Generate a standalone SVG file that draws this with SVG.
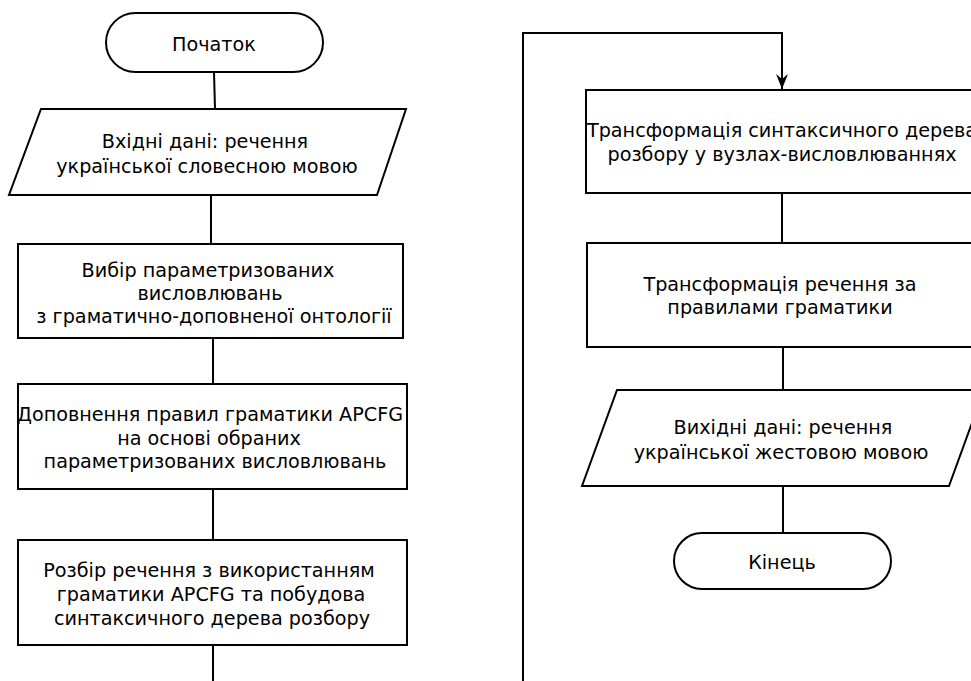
<svg xmlns="http://www.w3.org/2000/svg" width="971" height="681" viewBox="0 0 971 681">
<style>
.s{fill:#fff;stroke:#000;stroke-width:2}
.c{fill:none;stroke:#000;stroke-width:2}
text{font-family:"DejaVu Sans",sans-serif;font-size:19.2px;fill:#000;text-anchor:middle}
</style>
<defs>
<marker id="ah" markerWidth="16" markerHeight="12" refX="15" refY="6" orient="auto" markerUnits="userSpaceOnUse" viewBox="0 0 16 12">
<path d="M0,0 L15,6 L0,12 L5,6 Z" fill="#000"/>
</marker>
</defs>
<rect width="971" height="681" fill="#fff"/>
<g id="connectors">
<line class="c" x1="214" y1="72" x2="215" y2="109"/>
<line class="c" x1="211" y1="195" x2="211" y2="244"/>
<line class="c" x1="213" y1="338" x2="213" y2="384"/>
<line class="c" x1="213" y1="489" x2="213" y2="540"/>
<line class="c" x1="213" y1="645" x2="213" y2="681"/>
<polyline class="c" points="523,681 523,33 782,33 782,89" marker-end="url(#ah)"/>
<line class="c" x1="782" y1="193" x2="782" y2="243"/>
<line class="c" x1="783" y1="347" x2="783" y2="390"/>
<line class="c" x1="783" y1="486" x2="783" y2="533"/>
</g>
<g id="start">
<rect class="s" x="106" y="13" width="217" height="59" rx="29.5"/>
<text x="214" y="51">Початок</text>
</g>
<g id="input">
<polygon class="s" points="41,109 406,109 377,195 9,195"/>
<text x="205" y="148">Вхідні дані: речення</text>
<text x="207" y="173">української словесною мовою</text>
</g>
<g id="select">
<rect class="s" x="18" y="244" width="385" height="94"/>
<text x="208" y="277">Вибір параметризованих</text>
<text x="210" y="300">висловлювань</text>
<text x="214" y="323">з граматично-доповненої онтології</text>
</g>
<g id="extend">
<rect class="s" x="18" y="384" width="389" height="105"/>
<text x="210" y="421">Доповнення правил граматики APCFG</text>
<text x="209" y="445">на основі обраних</text>
<text x="215" y="468">параметризованих висловлювань</text>
</g>
<g id="parse">
<rect class="s" x="18" y="540" width="389" height="105"/>
<text x="209" y="577">Розбір речення з використанням</text>
<text x="211" y="601">граматики APCFG та побудова</text>
<text x="212" y="625">синтаксичного дерева розбору</text>
</g>
<g id="transform-tree">
<rect class="s" x="586" y="90" width="392" height="103"/>
<text x="782" y="137">Трансформація синтаксичного дерева</text>
<text x="782" y="161">розбору у вузлах-висловлюваннях</text>
</g>
<g id="transform-sentence">
<rect class="s" x="587" y="243" width="391" height="104"/>
<text x="780" y="291">Трансформація речення за</text>
<text x="780" y="314">правилами граматики</text>
</g>
<g id="output">
<polygon class="s" points="617,390 984,390 949,486 582,486"/>
<text x="783" y="434">Вихідні дані: речення</text>
<text x="781" y="459">української жестовою мовою</text>
</g>
<g id="end">
<rect class="s" x="674" y="533" width="217" height="56" rx="28"/>
<text x="782" y="569">Кінець</text>
</g>
</svg>
